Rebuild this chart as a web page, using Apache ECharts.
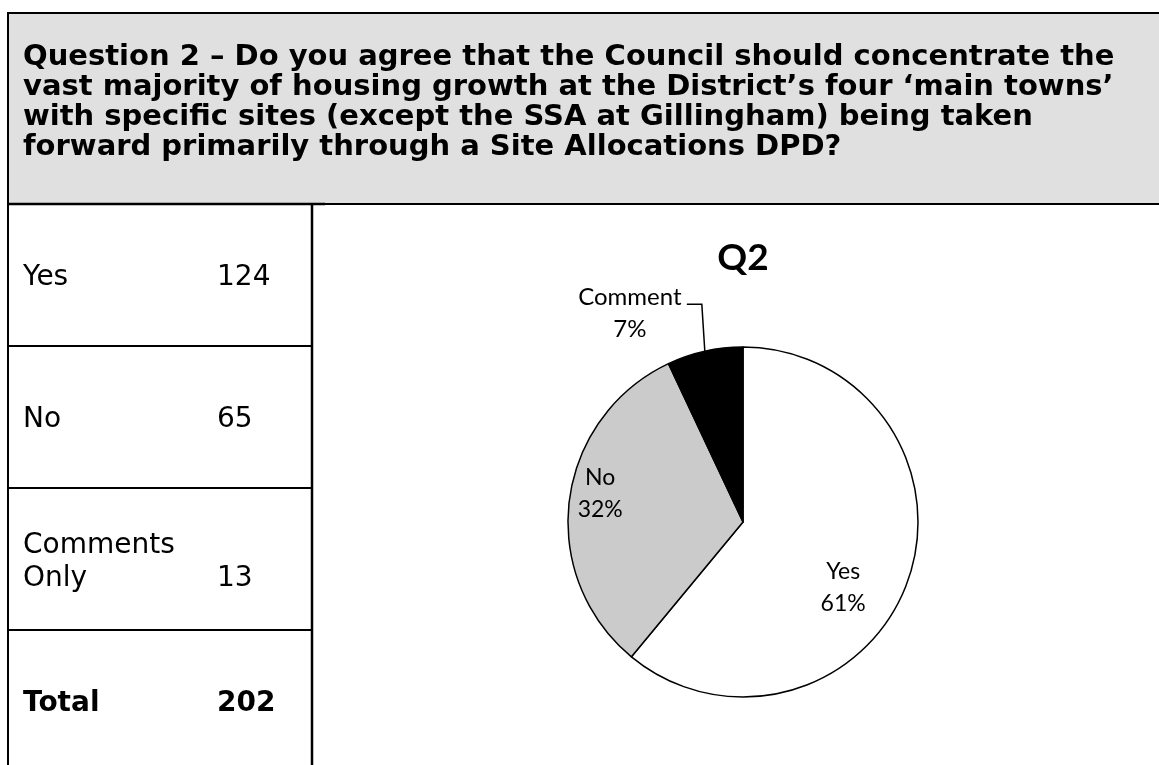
<!DOCTYPE html>
<html>
<head>
<meta charset="utf-8">
<script src="https://cdn.jsdelivr.net/npm/echarts@6/dist/echarts.min.js"></script>
<style>
  html, body { margin: 0; padding: 0; background: #ffffff; }
  #chart { width: 1159px; height: 765px; }
</style>
</head>
<body>
<div id="chart"></div>
<script>
// Question text, one entry per printed line
const questionLines = [
  'Question 2 – Do you agree that the Council should concentrate the',
  'vast majority of housing growth at the District’s four ‘main towns’',
  'with specific sites (except the SSA at Gillingham) being taken',
  'forward primarily through a Site Allocations DPD?'
];

// Response counts table
const tableLabels = ['Yes', 'No', 'Comments\nOnly', 'Total'];
const tableCounts = [124, 65, 13, 202];

// Pie chart
const chartTitle = 'Q2';
const pieCategories = ['Yes', 'No', 'Comment'];
const piePercents = [61, 32, 7];
const pieColors = ['#ffffff', '#cbcbcb', '#000000'];

const TABLE_FONT = '"DejaVu Sans", Verdana, sans-serif';
const PIE_FONT = 'Lato, "Noto Sans", sans-serif';

// Table geometry
const leftX = 8;
const colX = 312;
const headerTop = 13;
const headerBottom = 204;
const rowH = 142;
const labelX = 23;
const countX = 217;
const tableLineH = 33;

const graphics = [];

// Grey question banner
graphics.push({
  type: 'rect',
  shape: { x: leftX, y: headerTop, width: 1200, height: headerBottom - headerTop },
  style: { fill: '#e0e0e0', stroke: '#000', lineWidth: 2 },
  z: 0
});
graphics.push({
  type: 'text',
  x: labelX, y: 42,
  style: {
    text: questionLines.join('\n'),
    font: 'bold 29px ' + TABLE_FONT,
    lineHeight: 30,
    fill: '#000',
    align: 'left',
    verticalAlign: 'top'
  },
  z: 2
});

// Table frame
const tableBottom = 765;
graphics.push({ type: 'line', shape: { x1: leftX, y1: headerBottom, x2: 325, y2: headerBottom }, style: { stroke: '#000', lineWidth: 2.5 }, z: 3 });
graphics.push({ type: 'line', shape: { x1: leftX, y1: headerBottom, x2: leftX, y2: tableBottom }, style: { stroke: '#000', lineWidth: 2 }, z: 3 });
graphics.push({ type: 'line', shape: { x1: colX, y1: headerBottom, x2: colX, y2: tableBottom }, style: { stroke: '#000', lineWidth: 2.5 }, z: 3 });

tableLabels.forEach((label, i) => {
  const top = headerBottom + i * rowH;
  if (i > 0) {
    graphics.push({ type: 'line', shape: { x1: leftX, y1: top, x2: colX, y2: top }, style: { stroke: '#000', lineWidth: 2 }, z: 3 });
  }
  const cy = top + rowH / 2 + 3;
  const nLines = label.split('\n').length;
  const bold = i === tableLabels.length - 1;
  const font = (bold ? 'bold ' : '') + '28px ' + TABLE_FONT;
  graphics.push({
    type: 'text', x: labelX, y: cy,
    style: { text: label, font: font, lineHeight: tableLineH, fill: '#000', align: 'left', verticalAlign: 'middle' },
    z: 2
  });
  graphics.push({
    type: 'text', x: countX, y: cy + (nLines - 1) * tableLineH / 2,
    style: { text: String(tableCounts[i]), font: font, fill: '#000', align: 'left', verticalAlign: 'middle' },
    z: 2
  });
});

// Chart title
graphics.push({
  type: 'text', x: 743, y: 258,
  style: { text: chartTitle, font: 'bold 37px ' + PIE_FONT, fill: '#000', align: 'center', verticalAlign: 'middle' },
  z: 2
});

// Nudges for the inside labels so they sit like best-fit labels
const labelNudge = [{ dx: 15, dy: 35 }, { dx: -53, dy: -17 }, {}];

// Outside label: leader rises almost straight up from the slice edge, then turns left
function placeLabel(p) {
  const pts = p.labelLinePoints;
  if (pts && pts.length >= 2) {
    const edge = pts[0];
    const bendY = pts[1][1];
    const cornerX = edge[0] - 3;
    const endX = cornerX - 15;
    return {
      x: endX - 5,
      y: bendY,
      align: 'right',
      verticalAlign: 'middle',
      labelLinePoints: [edge, [cornerX, bendY], [endX, bendY]]
    };
  }
  return labelNudge[p.dataIndex];
}

const pieData = pieCategories.map((name, i) => {
  const item = { name: name, value: piePercents[i], itemStyle: { color: pieColors[i] } };
  if (name === 'Comment') {
    // small spacer line on top keeps the first text line level with the leader
    item.label = {
      position: 'outside',
      formatter: p => '{s| }\n{a|' + p.name + '}\n{a|' + p.value + '%}',
      rich: {
        s: { fontSize: 1, lineHeight: 18 },
        a: { width: 104, align: 'center', fontSize: 24, lineHeight: 32, fontFamily: PIE_FONT, color: '#000' }
      }
    };
    item.labelLine = { show: true, length: 48, length2: 15, lineStyle: { color: '#000', width: 1.5 } };
  }
  return item;
});

const chart = echarts.init(document.getElementById('chart'), null, { renderer: 'canvas' });
chart.setOption({
  backgroundColor: '#ffffff',
  animation: false,
  graphic: graphics,
  series: [{
    type: 'pie',
    center: [743, 522],
    radius: 175,
    startAngle: 90,
    clockwise: true,
    avoidLabelOverlap: false,
    minShowLabelAngle: 0,
    itemStyle: { borderColor: '#000', borderWidth: 1.5 },
    label: {
      show: true,
      position: 'inside',
      formatter: p => p.name + '\n' + p.value + '%',
      fontFamily: PIE_FONT,
      fontSize: 23,
      lineHeight: 32,
      color: '#000',
      align: 'center'
    },
    labelLine: { show: false },
    labelLayout: placeLabel,
    emphasis: { disabled: true },
    data: pieData
  }]
});
</script>
</body>
</html>
